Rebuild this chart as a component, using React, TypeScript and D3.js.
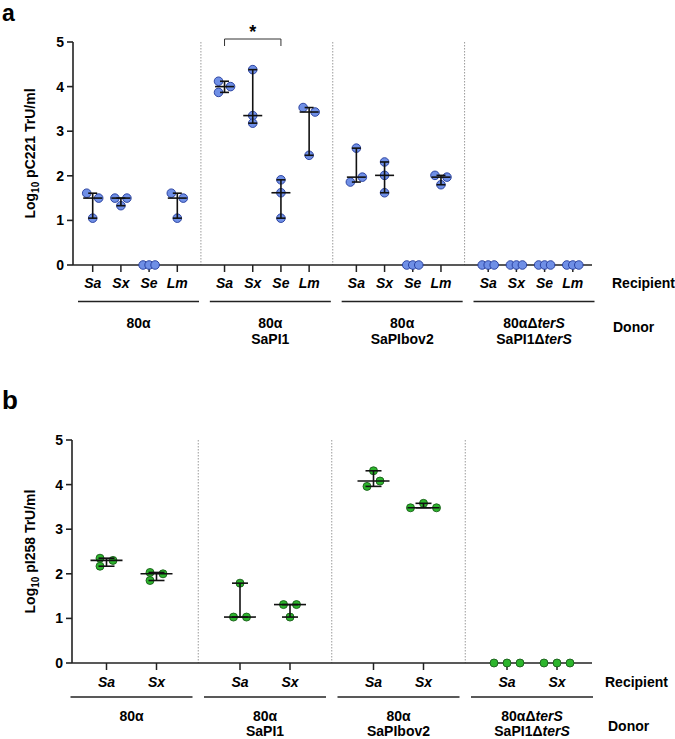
import React from 'react';
import * as d3 from 'd3';

const recipientsA = ['Sa', 'Sx', 'Se', 'Lm'];
const recipientsB = ['Sa', 'Sx'];
const donorLines = [['80α'], ['80α', 'SaPI1'], ['80α', 'SaPIbov2'], ['80αΔterS', 'SaPI1ΔterS']];
const yTicks = [0, 1, 2, 3, 4, 5];

// Panel a: log10 pC221 TrU/ml, [donor group][recipient] -> replicates
const valuesA = [
  [[1.61, 1.5, 1.05], [1.5, 1.5, 1.33], [0, 0, 0], [1.61, 1.5, 1.05]],
  [[4.12, 4.0, 3.87], [4.38, 3.35, 3.18], [1.91, 1.62, 1.05], [3.53, 3.43, 2.46]],
  [[2.62, 1.97, 1.86], [2.31, 2.01, 1.62], [0, 0, 0], [2.01, 1.97, 1.8]],
  [[0, 0, 0], [0, 0, 0], [0, 0, 0], [0, 0, 0]],
];
// scatter lane (jitter) for each replicate
const lanesA = [
  [[-1, 1, 0], [-1, 1, 0], [-1, 0, 1], [-1, 1, 0]],
  [[-1, 1, -1], [0, 0, 0], [0, 0, 0], [-1, 1, 0]],
  [[0, 1, -1], [0, 0, 0], [-1, 0, 1], [-1, 1, 0]],
  [[-1, 0, 1], [-1, 0, 1], [-1, 0, 1], [-1, 0, 1]],
];

// Panel b: log10 pI258 TrU/ml
const valuesB = [
  [[2.35, 2.3, 2.17], [2.03, 2.0, 1.85]],
  [[1.79, 1.03, 1.03], [1.31, 1.31, 1.03]],
  [[4.31, 4.08, 3.96], [3.58, 3.48, 3.48]],
  [[0, 0, 0], [0, 0, 0]],
];
const lanesB = [
  [[-1, 1, -1], [-1, 1, -1]],
  [[0, -1, 1], [-1, 1, 0]],
  [[0, 1, -1], [0, -2, 2]],
  [[-2, 0, 2], [-2, 0, 2]],
];

const sigA = { group: 1, from: 'Sa', to: 'Se', label: '*' };

const FONT = "'Liberation Sans', Arial, sans-serif";

function DonorText({ text, x, y }: { text: string; x: number; y: number }) {
  const parts = text.split('terS');
  return (
    <text x={x} y={y} textAnchor="middle" fontFamily={FONT} fontWeight="bold" fontSize={14}>
      {parts.map((p, i) => (
        <React.Fragment key={i}>
          <tspan>{p}</tspan>
          {i < parts.length - 1 && <tspan fontStyle="italic">terS</tspan>}
        </React.Fragment>
      ))}
    </text>
  );
}

type PanelProps = {
  letter: string;
  letterY: number;
  letterSize: number;
  ylabel: string;
  values: number[][][];
  lanes: number[][][];
  recipients: string[];
  yRange: [number, number];
  axisX: number;
  axisEnd: number;
  centers: [number, number];
  spread: number;
  lanePx: number;
  r: number;
  medHalf: number;
  capHalf: number;
  fill: string;
  stroke: string;
  recipY: number;
  ulY: number;
  ulOff: number;
  ulHalf: number;
  donorY: number;
  donorStep: number;
  recipLabelX: number;
  donorLabelX: number;
  donorLabelY: number;
  sig?: { group: number; from: string; to: string; label: string };
};

function Panel(p: PanelProps) {
  const y = d3.scaleLinear().domain([0, 5]).range(p.yRange);
  const gx = d3.scaleLinear().domain([0, 3]).range(p.centers);
  const rx = d3.scalePoint<string>().domain(p.recipients).range([-p.spread, p.spread]);
  const groups = d3.range(4);
  const yTop = y(5);
  const yBot = y(0);
  const labelCy = (yTop + yBot) / 2;

  return (
    <g>
      <text x={2} y={p.letterY} fontFamily={FONT} fontWeight="bold" fontSize={p.letterSize}>{p.letter}</text>
      {/* dividers */}
      {groups.slice(1).map((g) => {
        const xd = (gx(g - 1) + gx(g)) / 2;
        return (
          <line key={g} x1={xd} x2={xd} y1={yTop} y2={yBot} stroke="#9a9a9a" strokeWidth={1} strokeDasharray="1.5,1.5" />
        );
      })}
      {/* y axis */}
      <line x1={p.axisX} x2={p.axisX} y1={yTop} y2={yBot} stroke="#222" strokeWidth={1.6} />
      {yTicks.map((t) => (
        <g key={t}>
          <line x1={p.axisX - 6} x2={p.axisX} y1={y(t)} y2={y(t)} stroke="#222" strokeWidth={1.6} />
          <text x={p.axisX - 9} y={y(t)} dy="0.36em" textAnchor="end" fontFamily={FONT} fontWeight="bold" fontSize={14}>{t}</text>
        </g>
      ))}
      <text transform={`translate(35,${labelCy}) rotate(-90)`} textAnchor="middle" fontFamily={FONT} fontWeight="bold" fontSize={14}>
        <tspan>Log</tspan>
        <tspan fontSize={10} dy={4}>10</tspan>
        <tspan dy={-4}>{' ' + p.ylabel}</tspan>
      </text>
      {/* x axis */}
      <line x1={p.axisX} x2={p.axisEnd} y1={yBot} y2={yBot} stroke="#222" strokeWidth={1.6} />
      {groups.map((g) =>
        p.recipients.map((rc) => {
          const cx = gx(g) + (rx(rc) as number);
          return (
            <g key={g + rc}>
              <line x1={cx} x2={cx} y1={yBot} y2={yBot + 7} stroke="#222" strokeWidth={1.5} />
              <text x={cx} y={p.recipY} textAnchor="middle" fontFamily={FONT} fontWeight="bold" fontStyle="italic" fontSize={14}>{rc}</text>
            </g>
          );
        })
      )}
      {/* points */}
      {groups.map((g) =>
        p.recipients.map((rc, ri) => {
          const cx = gx(g) + (rx(rc) as number);
          return p.values[g][ri].map((v, k) => (
            <circle key={`${g}-${rc}-${k}`} cx={cx + p.lanes[g][ri][k] * p.lanePx} cy={y(v)} r={p.r} fill={p.fill} stroke={p.stroke} strokeWidth={0.9} />
          ));
        })
      )}
      {/* median with range */}
      {groups.map((g) =>
        p.recipients.map((rc, ri) => {
          const vals = p.values[g][ri];
          const [mn, mx] = d3.extent(vals) as [number, number];
          if (mx === 0) return null;
          const md = d3.median(vals) as number;
          const cx = gx(g) + (rx(rc) as number);
          return (
            <g key={`eb${g}${rc}`} stroke="#111" strokeWidth={1.6}>
              <line x1={cx} x2={cx} y1={y(mn)} y2={y(mx)} />
              <line x1={cx - p.capHalf} x2={cx + p.capHalf} y1={y(mn)} y2={y(mn)} />
              <line x1={cx - p.capHalf} x2={cx + p.capHalf} y1={y(mx)} y2={y(mx)} />
              <line x1={cx - p.medHalf} x2={cx + p.medHalf} y1={y(md)} y2={y(md)} />
            </g>
          );
        })
      )}
      {/* significance */}
      {p.sig && (() => {
        const x1 = gx(p.sig.group) + (rx(p.sig.from) as number);
        const x2 = gx(p.sig.group) + (rx(p.sig.to) as number);
        const by = yTop - 3;
        return (
          <g>
            <path d={`M${x1},${by + 7}V${by}H${x2}V${by + 7}`} fill="none" stroke="#333" strokeWidth={1} />
            <text x={(x1 + x2) / 2} y={by - 1} textAnchor="middle" fontFamily={FONT} fontWeight="bold" fontSize={18}>{p.sig.label}</text>
          </g>
        );
      })()}
      {/* group underlines and donor labels */}
      {groups.map((g) => {
        const c = gx(g) + p.ulOff;
        return (
          <g key={`d${g}`}>
            <line x1={c - p.ulHalf} x2={c + p.ulHalf} y1={p.ulY} y2={p.ulY} stroke="#222" strokeWidth={1.5} />
            {donorLines[g].map((t, i) => (
              <DonorText key={i} text={t} x={c} y={p.donorY + i * p.donorStep} />
            ))}
          </g>
        );
      })}
      <text x={p.recipLabelX} y={p.recipY} fontFamily={FONT} fontWeight="bold" fontSize={14}>Recipient</text>
      <text x={p.donorLabelX} y={p.donorLabelY} fontFamily={FONT} fontWeight="bold" fontSize={14}>Donor</text>
    </g>
  );
}

export default function App() {
  return (
    <svg width={675} height={739} style={{ position: 'absolute', left: 0, top: 0, background: '#fff' }}>
      <rect width={675} height={739} fill="#fff" />
      <Panel
        letter="a"
        letterY={21}
        letterSize={23}
        ylabel="pC221 TrU/ml"
        values={valuesA}
        lanes={lanesA}
        recipients={recipientsA}
        yRange={[265, 42]}
        axisX={73}
        axisEnd={592}
        centers={[135, 530.5]}
        spread={42.3}
        lanePx={6}
        r={4.3}
        medHalf={9.5}
        capHalf={4.5}
        fill="#6f8fe6"
        stroke="#233a9a"
        recipY={288}
        ulY={301.5}
        ulOff={3.5}
        ulHalf={60.5}
        donorY={328}
        donorStep={16}
        recipLabelX={612}
        donorLabelX={613}
        donorLabelY={332}
        sig={sigA}
      />
      <Panel
        letter="b"
        letterY={409}
        letterSize={26}
        ylabel="pI258 TrU/ml"
        values={valuesB}
        lanes={lanesB}
        recipients={recipientsB}
        yRange={[663, 440]}
        axisX={72}
        axisEnd={592}
        centers={[131.5, 532]}
        spread={25}
        lanePx={6.5}
        r={4}
        medHalf={16}
        capHalf={8}
        fill="#2cb52c"
        stroke="#1a5e1a"
        recipY={687}
        ulY={697}
        ulOff={0}
        ulHalf={61}
        donorY={721}
        donorStep={15}
        recipLabelX={605}
        donorLabelX={608}
        donorLabelY={731}
      />
    </svg>
  );
}
